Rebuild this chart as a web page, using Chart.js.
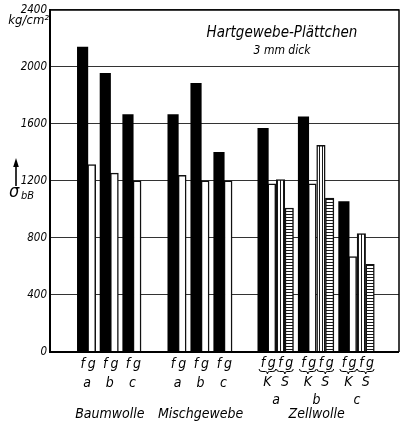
<!DOCTYPE html>
<html>
<head>
<meta charset="utf-8">
<script src="https://cdn.jsdelivr.net/npm/chart.js@4.4.1/dist/chart.umd.min.js"></script>
<style>
  html, body { margin: 0; padding: 0; background: #fff; }
  #wrap { width: 404px; height: 424px; }
</style>
</head>
<body>
<div id="wrap"><canvas id="c" width="404" height="424"></canvas></div>
<script>
// Biegefestigkeit σbB (kg/cm²) von Hartgewebe-Plättchen, 3 mm dick
const materials = ['Baumwolle', 'Mischgewebe', 'Zellwolle'];
const grades = ['a', 'b', 'c'];
const yTicks = [0, 400, 800, 1200, 1600, 2000, 2400];

// f / g values per grade a, b, c
const baumF = [2140, 1955, 1665];
const baumG = [1315, 1255, 1200];
const mischF = [1665, 1885, 1400];
const mischG = [1240, 1200, 1200];
// Zellwolle: K pair and S pair
const zellKF = [1570, 1650, 1055];
const zellKG = [1180, 1180, 670];
const zellSF = [1210, 1450, 830];
const zellSG = [1010, 1080, 615];

// ---- layout along the x axis (axis units, one unit ≈ one bar) ----
const X_MAX = 38;
const matStart = [3.55, 13.4, 23.2];
const groupStep = [2.47, 2.5, 4.4];
const barStep = [0.99, 0.99, 0.95];
const pos = (m, g, k) => matStart[m] + g * groupStep[m] + k * barStep[m];

const series = (m, k, values) => values.map((v, g) => ({ x: pos(m, g, k), y: v }));

// hatch fills
function hatch(vertical) {
  const t = document.createElement('canvas');
  t.width = 3; t.height = 3;
  const c = t.getContext('2d');
  c.fillStyle = '#fff';
  c.fillRect(0, 0, 3, 3);
  c.fillStyle = '#1a1a1a';
  if (vertical) c.fillRect(1, 0, 1, 3); else c.fillRect(0, 1, 3, 1);
  return document.getElementById('c').getContext('2d').createPattern(t, 'repeat');
}

const FONT = '"DejaVu Sans Condensed", "Liberation Sans Narrow", sans-serif';

const labelsPlugin = {
  id: 'labels',
  afterDraw(chart) {
    const ctx = chart.ctx;
    const xs = chart.scales.x;
    const area = chart.chartArea;
    const px = (m, g, k) => xs.getPixelForValue(pos(m, g, k));
    ctx.save();
    // frame: top and right border, baseline
    ctx.strokeStyle = '#000';
    ctx.lineWidth = 1.5;
    ctx.beginPath();
    ctx.moveTo(area.left, area.top);
    ctx.lineTo(area.right, area.top);
    ctx.lineTo(area.right, area.bottom);
    ctx.stroke();
    ctx.lineWidth = 2;
    ctx.beginPath();
    ctx.moveTo(area.left, area.bottom);
    ctx.lineTo(area.right, area.bottom);
    ctx.stroke();

    ctx.fillStyle = '#000';
    ctx.textAlign = 'center';
    ctx.textBaseline = 'middle';

    // title
    ctx.font = 'italic 15px ' + FONT;
    ctx.fillText('Hartgewebe-Plättchen', 282, 33);
    ctx.font = 'italic 12px ' + FONT;
    ctx.fillText('3 mm dick', 282, 51);

    // unit and quantity
    ctx.font = 'italic 13px ' + FONT;
    ctx.textAlign = 'right';
    ctx.fillText('kg/cm²', 49, 21);
    ctx.textAlign = 'left';
    ctx.font = 'italic 18px ' + FONT;
    ctx.fillText('σ', 9, 192);
    ctx.font = 'italic 11px ' + FONT;
    ctx.fillText('bB', 21, 196);
    ctx.lineWidth = 1.6;
    ctx.beginPath();
    ctx.moveTo(16, 186);
    ctx.lineTo(16, 165);
    ctx.stroke();
    ctx.beginPath();
    ctx.moveTo(16, 158);
    ctx.lineTo(13.2, 167);
    ctx.lineTo(18.8, 167);
    ctx.closePath();
    ctx.fill();

    ctx.textAlign = 'center';
    const yFG = 364, yGrade = 383, yMat = 414;
    // Baumwolle, Mischgewebe
    for (let m = 0; m < 2; m++) {
      grades.forEach((gr, g) => {
        ctx.font = 'italic 14px ' + FONT;
        ctx.fillText('f', px(m, g, 0), yFG);
        ctx.fillText('g', px(m, g, 1), yFG);
        ctx.fillText(gr, (px(m, g, 0) + px(m, g, 1)) / 2, yGrade);
      });
    }
    // Zellwolle
    grades.forEach((gr, g) => {
      ctx.font = 'italic 14px ' + FONT;
      ['f', 'g', 'f', 'g'].forEach((t, k) => ctx.fillText(t, px(2, g, k), yFG - 1));
      [['K', 0], ['S', 2]].forEach(([t, k]) => {
        const a = px(2, g, k) - 4, b = px(2, g, k + 1) + 4, mid = (a + b) / 2;
        ctx.lineWidth = 1;
        ctx.beginPath();
        ctx.moveTo(a, 369);
        ctx.quadraticCurveTo(a, 371.5, a + 3, 371.5);
        ctx.lineTo(mid - 2, 371.5);
        ctx.quadraticCurveTo(mid, 371.5, mid, 374);
        ctx.quadraticCurveTo(mid, 371.5, mid + 2, 371.5);
        ctx.lineTo(b - 3, 371.5);
        ctx.quadraticCurveTo(b, 371.5, b, 369);
        ctx.stroke();
        ctx.font = 'italic 14px ' + FONT;
        ctx.fillText(t, mid, 382);
      });
      ctx.fillText(gr, (px(2, g, 0) + px(2, g, 3)) / 2, 400);
    });
    // material names
    ctx.font = 'italic 14px ' + FONT;
    materials.forEach((name, m) => {
      const last = m < 2 ? 1 : 3;
      ctx.fillText(name, (px(m, 0, 0) + px(m, 2, last)) / 2, yMat);
    });
    ctx.restore();
  }
};

const vPattern = hatch(true);
const hPattern = hatch(false);

new Chart(document.getElementById('c'), {
  type: 'bar',
  data: {
    datasets: [
      {
        label: 'f',
        data: [...series(0, 0, baumF), ...series(1, 0, mischF), ...series(2, 0, zellKF)],
        backgroundColor: '#000',
        borderWidth: 0,
        barThickness: 10.5
      },
      {
        label: 'g',
        data: [...series(0, 1, baumG), ...series(1, 1, mischG), ...series(2, 1, zellKG)],
        backgroundColor: '#ffffff',
        borderColor: '#111',
        borderWidth: 1.5,
        barThickness: 8
      },
      {
        label: 'f (S)',
        data: series(2, 2, zellSF),
        backgroundColor: vPattern,
        borderColor: '#111',
        borderWidth: 1.5,
        barThickness: 8.5
      },
      {
        label: 'g (S)',
        data: series(2, 3, zellSG),
        backgroundColor: hPattern,
        borderColor: '#111',
        borderWidth: 1.5,
        barThickness: 8.5
      }
    ]
  },
  options: {
    responsive: false,
    animation: false,
    devicePixelRatio: 1,
    grouped: false,
    layout: { padding: { left: 0, right: 5, top: 7, bottom: 72 } },
    plugins: { legend: { display: false }, tooltip: { enabled: false } },
    scales: {
      x: { type: 'linear', min: 0, max: X_MAX, offset: false, display: false },
      y: {
        min: 0,
        max: 2400,
        afterBuildTicks: s => { s.ticks = yTicks.map(v => ({ value: v })); },
        afterFit: s => { s.width = 50; },
        grid: { color: '#333', lineWidth: 1, drawTicks: false },
        border: { display: true, color: '#000', width: 2 },
        ticks: {
          padding: 3,
          color: '#000',
          callback: v => String(v),
          font: { family: FONT, style: 'italic', size: 11.5 }
        }
      }
    }
  },
  plugins: [labelsPlugin]
});
</script>
</body>
</html>
